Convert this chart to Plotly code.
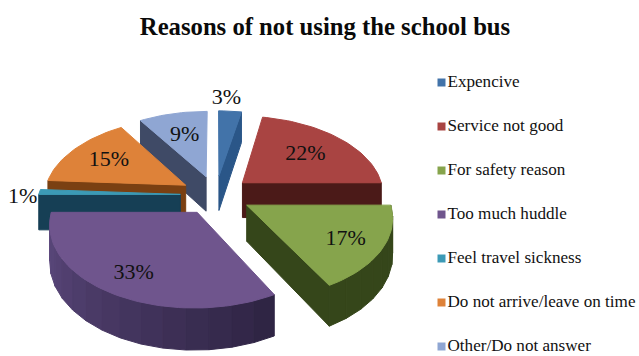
import math
import plotly.graph_objects as go

TITLE = "Reasons of not using the school bus"
categories = ["Expencive", "Service not good", "For safety reason", "Too much huddle",
              "Feel travel sickness", "Do not arrive/leave on time", "Other/Do not answer"]
shares = [3, 22, 17, 33, 1, 15, 9]

top_colors = ["#4273a9", "#a94442", "#86a44c", "#6f558d", "#3c9ab6", "#de8239", "#8fa6d3"]
wall_colors = ["#2a5688", "#4b1a18", "#35461a", "#5e4a80", "#163f55", "#7a4012", "#3f4a66"]
wall_far_colors = {3: "#2c2240"}  # the big slice's rim darkens toward its right end
label_radius = [1.25, 0.62, 0.745, 0.76, 1.15, 0.68, 0.62]
label_shift_x = [-6, 1, 0, 0, 4, 0, 0]
label_shift_y = [1, 0, 2, 2, 6, 0, 0]
paint_order = [0, 6, 5, 1, 4, 2, 3]

# Tilted-pie camera, in page pixels
CX, CY = 215.7, 195.0
RX, RY = 141.7, 78.3
TILT = 0.13
EXPLODE = 0.25
DEPTH = 35.5
FONT = "Liberation Serif"
INK = "#111111"


def project(u, v, lift=0.0):
    w = 1 + TILT * v
    return CX + RX * u / w, CY - RY * v / w + DEPTH * lift / w


def polar(angle, r=1.0):
    a = math.radians(angle)
    return r * math.sin(a), r * math.cos(a)


def arc(a0, a1, steps):
    return [a0 + (a1 - a0) * i / steps for i in range(steps + 1)]


def mix(c0, c1, t):
    p0 = [int(c0[i:i + 2], 16) for i in (1, 3, 5)]
    p1 = [int(c1[i:i + 2], 16) for i in (1, 3, 5)]
    return "#%02x%02x%02x" % tuple(round(a + (b - a) * t) for a, b in zip(p0, p1))


fig = go.Figure()


def add_face(points, color):
    fig.add_trace(go.Scatter(
        x=[p[0] for p in points] + [points[0][0]],
        y=[p[1] for p in points] + [points[0][1]],
        mode="lines", fill="toself", fillcolor=color,
        line=dict(color=color, width=1),
        hoverinfo="skip", showlegend=False,
    ))


# Cumulative slice angles, clockwise from twelve o'clock
total = sum(shares)
starts, ends = [], []
running = 0
for s in shares:
    starts.append(360 * running / total)
    running += s
    ends.append(360 * running / total)

label_x, label_y, label_text = [], [], []

for i in paint_order:
    a0, a1 = starts[i], ends[i]
    mid = (a0 + a1) / 2
    ox, oy = polar(mid, EXPLODE)

    def at(angle, r=1.0, lift=0.0):
        u, v = polar(angle, r)
        return project(ox + u, oy + v, lift)

    apex = (ox, oy)
    # Radial walls that turn toward the viewer
    for edge, visible in ((a0, math.sin(math.radians(a0)) < -1e-6),
                          (a1, math.sin(math.radians(a1)) > 1e-6)):
        if visible:
            add_face([project(*apex), at(edge), at(edge, lift=1), project(*apex, 1)], wall_colors[i])

    # Outer rim, only along the front half of the circle
    lo, hi = max(a0, 90), min(a1, 270)
    if hi > lo:
        facets = max(1, round((hi - lo) / 8))
        stops = arc(hi, lo, facets)
        for k, (b0, b1) in enumerate(zip(stops[:-1], stops[1:])):
            far = wall_far_colors.get(i, wall_colors[i])
            add_face([at(b0), at(b1), at(b1, lift=1), at(b0, lift=1)], mix(wall_colors[i], far, k / facets))

    # Top surface
    steps = max(4, round((a1 - a0) / 2))
    add_face([project(*apex)] + [at(a) for a in arc(a0, a1, steps)], top_colors[i])

    lx, ly = at(mid, label_radius[i])
    label_x.append(lx + label_shift_x[i])
    label_y.append(ly + label_shift_y[i])
    label_text.append(f"{shares[i]}%")

fig.add_trace(go.Scatter(
    x=label_x, y=label_y, text=label_text, mode="text",
    textposition="middle center",
    textfont=dict(family=FONT, size=22, color=INK),
    hoverinfo="skip", showlegend=False,
))

# Key on the right: square swatch plus label
KEY_X, KEY_TOP, KEY_STEP = 441.5, 82.5, 44.0
fig.add_trace(go.Scatter(
    x=[KEY_X] * len(categories),
    y=[KEY_TOP + KEY_STEP * n for n in range(len(categories))],
    text=categories, mode="markers+text",
    textposition="middle right",
    marker=dict(symbol="square", size=8, color=top_colors, line=dict(width=0)),
    textfont=dict(family=FONT, size=17.1, color=INK),
    hoverinfo="skip", showlegend=False,
))

fig.update_layout(
    width=639, height=356,
    margin=dict(l=0, r=0, t=0, b=0),
    paper_bgcolor="white", plot_bgcolor="white",
    showlegend=False,
    title=dict(text=f"<b>{TITLE}</b>", x=325 / 639, xanchor="center",
               y=1 - 26 / 356, yanchor="middle",
               font=dict(family=FONT, size=24.7, color="#0a0a0a")),
    xaxis=dict(range=[0, 639], visible=False, fixedrange=True),
    yaxis=dict(range=[356, 0], visible=False, fixedrange=True),
)

fig.write_html("out.html")
